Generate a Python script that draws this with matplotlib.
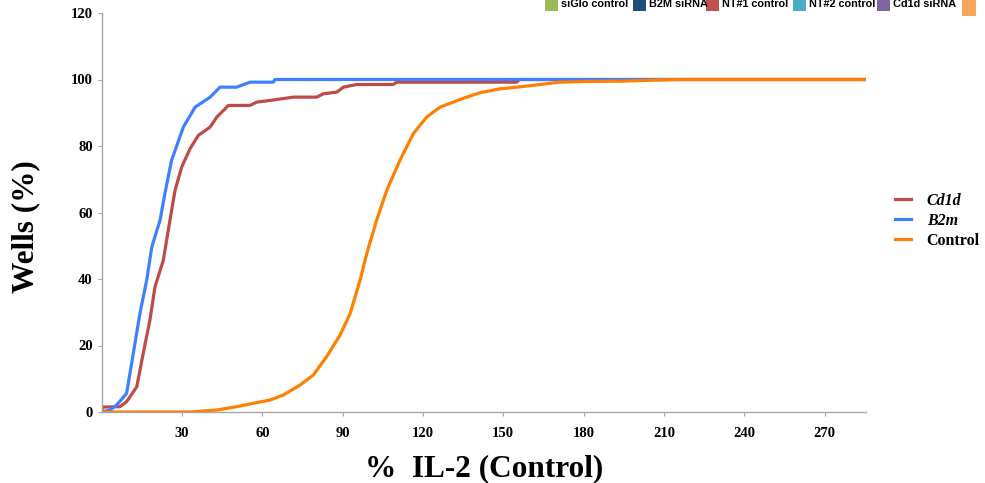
import matplotlib.pyplot as plt
from matplotlib.patches import Rectangle

# step-ish cumulative curves
cd1d_x = [0, 0.6, 6.8, 9.3, 13.1, 15.5, 18, 19.9, 23, 25.5, 27.4, 29.9, 33, 36.1, 40.5, 43,
          46.1, 47.3, 55.4, 57.9, 62.9, 71.6, 80.3, 82.8, 87.8, 90.3, 95.3, 108.9, 110.2,
          155, 156, 285.5]
cd1d_y = [0.5, 1.5, 1.6, 3.1, 7.6, 17.6, 27.6, 37.6, 45.6, 57.7, 66.7, 73.7, 79.2, 83.2,
          85.7, 88.7, 91.2, 92.2, 92.2, 93.2, 93.7, 94.7, 94.7, 95.7, 96.2, 97.7, 98.5,
          98.5, 99.2, 99.2, 100, 100]

b2m_x = [0, 3.1, 5.6, 9.3, 11.8, 14.3, 16.8, 18.7, 21.8, 23.6, 26.1, 30.5, 34.9, 40.5,
         44.2, 50.4, 55.4, 64.1, 64.7, 285.5]
b2m_y = [0, 0.6, 2.1, 5.6, 17.6, 29.7, 39.6, 49.6, 57.7, 65.7, 75.7, 85.7, 91.7, 94.7,
         97.7, 97.7, 99.2, 99.2, 100, 100]

ctrl_x = [0, 33, 43, 50.4, 56.6, 62.9, 67.8, 74.1, 79, 84, 89, 92.8, 96.5, 99, 102.7,
          106.5, 111.4, 116.4, 121.4, 126.4, 131.3, 136.3, 141.3, 148.8, 157.5, 163.7,
          171.2, 181, 193.6, 215, 285.5]
ctrl_y = [0, 0, 0.6, 1.6, 2.6, 3.6, 5.1, 8.1, 11.1, 16.6, 23.1, 29.6, 39.6, 47.6, 57.7,
          66.7, 75.7, 83.7, 88.7, 91.7, 93.2, 94.7, 96, 97.2, 97.9, 98.5, 99.2, 99.4,
          99.5, 100, 100]

x_ticks = [30, 60, 90, 120, 150, 180, 210, 240, 270]
y_ticks = [0, 20, 40, 60, 80, 100, 120]

top_names = ['siGlo control', 'B2M siRNA', 'NT#1 control', 'NT#2 control', 'Cd1d siRNA']
top_colors = ['#9BBB59', '#1F4E79', '#C0504D', '#4BACC6', '#8064A2']

W, H = 985, 483
fig = plt.figure(figsize=(W / 100, H / 100), dpi=100)
ax = fig.add_axes([101.7 / W, (H - 412) / H, (866 - 101.7) / W, (412 - 13) / H])

serif = 'Liberation Serif'
l1, = ax.plot(cd1d_x, cd1d_y, color='#BE4B48', lw=2.3)
l2, = ax.plot(b2m_x, b2m_y, color='#3F80FF', lw=2.3)
l3, = ax.plot(ctrl_x, ctrl_y, color='#FF7F00', lw=2.3)

ax.set_xlim(0, 285.5)
ax.set_ylim(0, 120)
ax.set_xticks(x_ticks)
ax.set_yticks(y_ticks)
for s in ['top', 'right']:
    ax.spines[s].set_visible(False)
for s in ['left', 'bottom']:
    ax.spines[s].set_color('#A6A6A6')
    ax.spines[s].set_linewidth(1)
ax.tick_params(colors='#A6A6A6', length=3, labelcolor='black')
ax.tick_params(axis='x', pad=8)
for lab in ax.get_xticklabels() + ax.get_yticklabels():
    lab.set_fontfamily(serif)
    lab.set_fontweight('bold')
    lab.set_fontsize(10.5)

ax.set_xlabel('%  IL-2 (Control)', fontfamily=serif, fontweight='bold', fontsize=22.5)
ax.set_ylabel('Wells (%)', fontfamily=serif, fontweight='bold', fontsize=22.5)
ax.xaxis.set_label_coords(0.5, -0.105)
ax.yaxis.set_label_coords(-0.08, 0.465)

leg = fig.legend([l1, l2, l3], ['Cd1d', 'B2m', 'Control'], loc='center left',
                 bbox_to_anchor=(882 / W, 1 - 221 / H), frameon=False, handlelength=1.0,
                 handletextpad=1.0, labelspacing=0.25, borderpad=0.3,
                 prop={'family': serif, 'weight': 'bold', 'size': 11.5})
leg.get_texts()[0].set_fontstyle('italic')
leg.get_texts()[1].set_fontstyle('italic')

# truncated legend strip at the top edge
def fx(p):
    return p / W


def fy(p):
    return 1 - p / H


patch_x = [545, 633, 706, 793, 877]
for px, name, c in zip(patch_x, top_names, top_colors):
    fig.add_artist(Rectangle((fx(px), fy(11)), fx(13), 11 / H, transform=fig.transFigure,
                             facecolor=c, edgecolor='none'))
    fig.text(fx(px + 16), fy(4), name, fontsize=7.8, fontweight='bold',
             fontfamily='Liberation Sans', va='center', ha='left')
fig.add_artist(Rectangle((fx(962), fy(16)), fx(14), 16 / H, transform=fig.transFigure,
                         facecolor='#F9A65A', edgecolor='none'))

fig.savefig('out.png', dpi=100)
